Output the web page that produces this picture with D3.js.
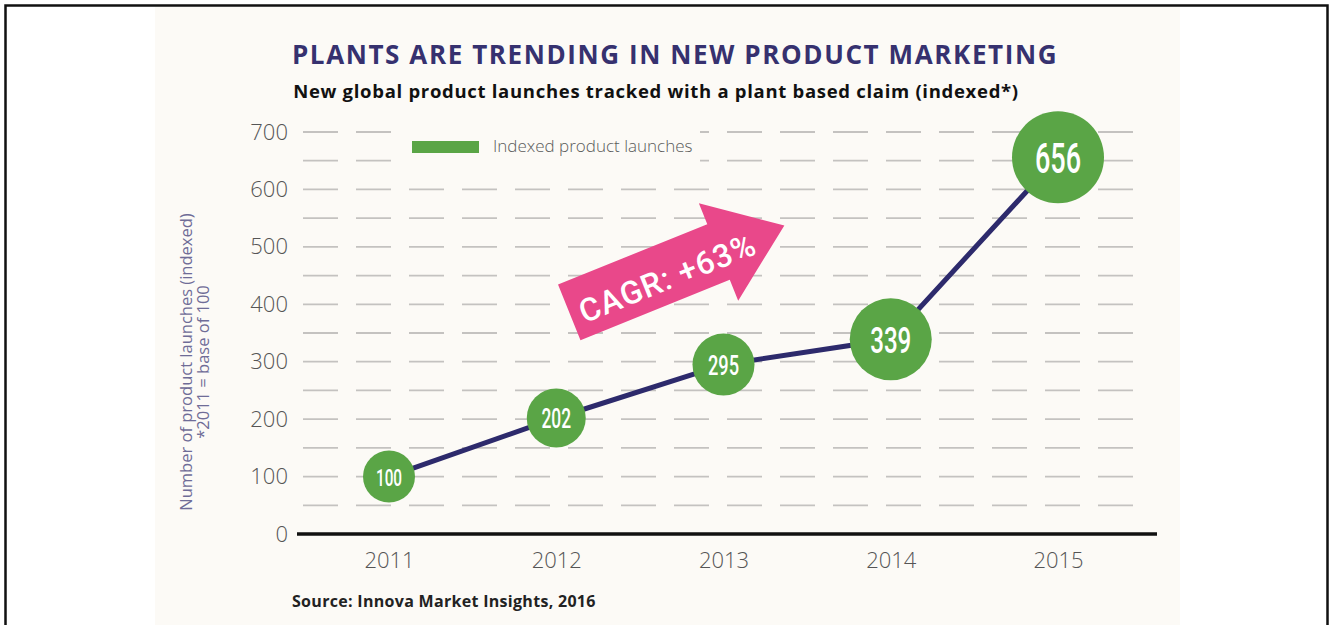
<!DOCTYPE html>
<html><head><meta charset="utf-8">
<script src="https://cdn.jsdelivr.net/npm/d3@7/dist/d3.min.js"></script>
<style>body{margin:0;background:#fff;}svg{display:block;}</style>
</head><body>
<svg id="c" width="1330" height="625"></svg>
<script>
const years = ["2011","2012","2013","2014","2015"];
const values = [100, 202, 295, 339, 656];
const yTicks = [0,100,200,300,400,500,600,700];
const gridValues = [50,100,150,200,250,300,350,400,450,500,550,600,650,700];
const titleText = "PLANTS ARE TRENDING IN NEW PRODUCT MARKETING";
const subtitleText = "New global product launches tracked with a plant based claim (indexed*)";
const yTitle1 = "Number of product launches (indexed)";
const yTitle2 = "*2011 = base of 100";
const legendLabel = "Indexed product launches";
const sourceText = "Source: Innova Market Insights, 2016";
const cagrText = "CAGR: +63%";

const svg = d3.select("#c");
const navy = "#36316f", green = "#5aa546", pink = "#e9488a";

// frame + panel
svg.append("rect").attr("x",155).attr("y",7).attr("width",1025).attr("height",625).attr("fill","#fcfaf6");
svg.append("rect").attr("x",5.5).attr("y",5.5).attr("width",1322).attr("height",640)
  .attr("fill","none").attr("stroke","#111").attr("stroke-width",2.5);

const x = d3.scalePoint().domain(years).range([389, 1058]);
const y = d3.scaleLinear().domain([0,700]).range([534,132]);
const r = d3.scaleLinear().domain([100,202,295,339,656]).range([26,29.5,31,41,46]);

// grid
svg.append("g").selectAll("line").data(gridValues).join("line")
  .attr("x1",303).attr("x2",1140).attr("y1",d=>y(d)).attr("y2",d=>y(d))
  .attr("stroke","#c4c2c0").attr("stroke-width",1.8).attr("stroke-dasharray","35 18");

// legend (knockout)
svg.append("rect").attr("x",398).attr("y",y(700)-10).attr("width",302).attr("height",y(650)-y(700)+20).attr("fill","#fcfaf6");
svg.append("rect").attr("x",412).attr("y",141).attr("width",67).attr("height",12).attr("fill",green);
svg.append("text").attr("x",493).attr("y",152).text(legendLabel)
  .attr("font-family","Open Sans").attr("font-size",17).attr("font-weight",300).attr("fill","#5a5a5a");

// baseline
svg.append("line").attr("x1",297).attr("x2",1157).attr("y1",y(0)).attr("y2",y(0))
  .attr("stroke","#111").attr("stroke-width",3.5);

// y tick labels
const yAxis = d3.axisLeft(y).tickValues(yTicks).tickSize(0).tickPadding(0);
const ya = svg.append("g").attr("transform","translate(288,0)").call(yAxis);
ya.select(".domain").remove();
ya.selectAll("text").attr("font-family","Open Sans").attr("font-size",22).attr("font-weight",300).attr("fill","#555");

// x tick labels
const xAxis = d3.axisBottom(x).tickSize(0).tickPadding(0);
const xa = svg.append("g").attr("transform","translate(0,552)").call(xAxis);
xa.select(".domain").remove();
xa.selectAll("text").attr("font-family","Open Sans").attr("font-size",22).attr("font-weight",300).attr("fill","#555");

// y title
const yt = svg.append("g").attr("transform","translate(192,362) rotate(-90)")
  .attr("font-family","Open Sans").attr("font-size",16.5).attr("fill","#6f6c97").attr("text-anchor","middle");
yt.append("text").attr("x",0).attr("y",0).text(yTitle1);
yt.append("text").attr("x",0).attr("y",17).text(yTitle2);

// titles
svg.append("text").attr("x",675).attr("y",64).attr("text-anchor","middle").text(titleText)
  .attr("font-family","Open Sans").attr("font-weight",700).attr("font-size",26).attr("letter-spacing",1.6).attr("fill",navy);
svg.append("text").attr("x",656).attr("y",98).attr("text-anchor","middle").text(subtitleText)
  .attr("font-family","Open Sans").attr("font-weight",700).attr("font-size",18.5).attr("letter-spacing",0.7).attr("fill","#111");
svg.append("text").attr("x",292).attr("y",607).text(sourceText)
  .attr("font-family","Open Sans").attr("font-weight",700).attr("font-size",16).attr("letter-spacing",0.3).attr("fill","#222");

// CAGR arrow anchored to scales
const ax = x("2012") + 13, ay = y(386);
const ang = -22, L = 232, bw = 60, hw = 105, hl = 71;
const arrow = svg.append("g").attr("transform",`translate(${ax},${ay}) rotate(${ang})`);
arrow.append("path").attr("fill",pink).attr("d",
  `M0,${-bw/2} L${L-hl},${-bw/2} L${L-hl},${-hw/2} L${L},0 L${L-hl},${hw/2} L${L-hl},${bw/2} L0,${bw/2} Z`);
arrow.append("text").attr("x",104).attr("y",5).attr("text-anchor","middle").attr("dominant-baseline","central")
  .attr("font-family","Roboto").attr("font-weight",500).attr("font-size",32).attr("letter-spacing",1)
  .attr("fill","#fff").text(cagrText);

// line
const line = d3.line().x((d,i)=>x(years[i])).y(d=>y(d));
svg.append("path").datum(values).attr("d",line).attr("fill","none").attr("stroke","#2d2a6c").attr("stroke-width",5);

// bubbles
const b = svg.append("g").selectAll("g").data(values).join("g")
  .attr("transform",(d,i)=>`translate(${x(years[i])},${y(d)})`);
b.append("circle").attr("r",d=>r(d)).attr("fill",green);
b.append("text").attr("transform","scale(0.64,1)").attr("text-anchor","middle").attr("dominant-baseline","central")
  .attr("y",1).attr("font-family","Roboto").attr("font-weight",500).attr("font-size",d=>r(d)*0.92)
  .attr("fill","#fff").text(d=>d);
</script>
</body></html>
